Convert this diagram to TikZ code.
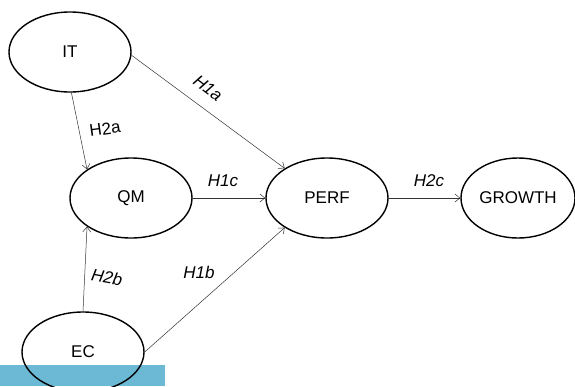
\documentclass[tikz,border=0pt]{standalone}
\usepackage{fontspec}
\setmainfont{Liberation Sans}
\usetikzlibrary{shapes.geometric, arrows.meta}
\definecolor{barblue}{RGB}{108,185,214}
\begin{document}
\begin{tikzpicture}[x=1pt, y=-1pt, line cap=round, line join=round, font=\fontsize{17}{20}\selectfont, >={Straight Barb[length=5pt, width=8pt]}]
	\tikzset{construct/.style={draw, ellipse, line width=1.4pt, minimum width=122pt, minimum height=80pt, inner sep=0pt},
		link/.style={->, line width=0.5pt, draw=black!80},
		hyp/.style={font=\fontsize{17}{20}\selectfont\itshape, inner sep=1pt}}
	\useasboundingbox (0,0) rectangle (575,386);
	\fill[barblue] (0,365) rectangle (165,386);
	\node[construct] (it) at (70,52) {IT};
	\node[construct] (qm) at (131,198) {QM};
	\node[construct] (perf) at (327,198) {PERF};
	\node[construct, minimum width=114pt] (growth) at (518,198) {GROWTH};
	\node[construct] (ec) at (83,352) {EC};
	\draw[link] (it.272) -- (qm.147);
	\draw[link] (it.-3) -- (perf.145);
	\draw[link] (qm.east) -- (perf.west);
	\draw[link] (perf.east) -- (growth.west);
	\draw[link] (ec.north) -- (qm.213);
	\draw[link] (ec.east) -- (perf.215);
	\node[hyp, font=\fontsize{17}{20}\selectfont, rotate=8] (h2a) at (105,129) {H2a};
	\node[hyp, rotate=-37] (h1a) at (208,88) {H1a};
	\node[hyp] (h1c) at (223,181) {H1c};
	\node[hyp] (h2c) at (429,181) {H2c};
	\node[hyp, rotate=-10] (h2b) at (107,277) {H2b};
	\node[hyp] (h1b) at (199,272) {H1b};
\end{tikzpicture}
\end{document}
